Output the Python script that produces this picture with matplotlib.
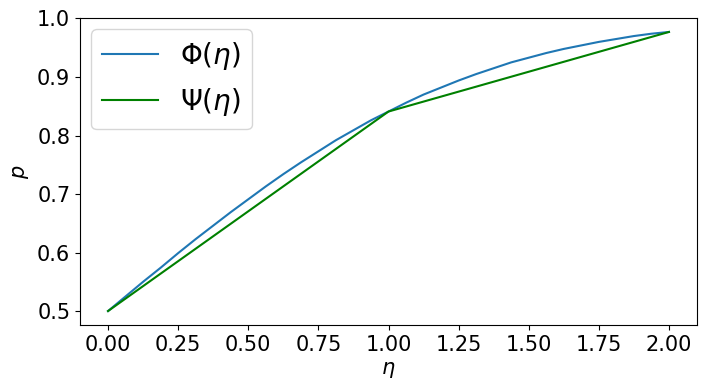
import matplotlib
matplotlib.use("Agg")
import matplotlib.pyplot as plt

eta = [0.0, 0.0625, 0.125, 0.1875, 0.25, 0.3125, 0.375, 0.4375, 0.5,
       0.5625, 0.625, 0.6875, 0.75, 0.8125, 0.875, 0.9375, 1.0,
       1.0625, 1.125, 1.1875, 1.25, 1.3125, 1.375, 1.4375, 1.5,
       1.5625, 1.625, 1.6875, 1.75, 1.8125, 1.875, 1.9375, 2.0]
phi = [0.500, 0.525, 0.550, 0.574, 0.599, 0.623, 0.646, 0.669, 0.691,
       0.713, 0.734, 0.754, 0.773, 0.792, 0.809, 0.826, 0.841,
       0.856, 0.870, 0.882, 0.894, 0.905, 0.915, 0.925, 0.933,
       0.941, 0.948, 0.954, 0.960, 0.965, 0.970, 0.974, 0.977]
eta_psi = [0.0, 1.0, 2.0]
psi = [0.500, 0.841, 0.977]

fig = plt.figure(figsize=(7.08, 3.9), dpi=100)
ax = fig.add_axes([80/708, 65/390, 617/708, 307/390])
ax.plot(eta, phi, color="#1f77b4", label=r"$\Phi(\eta)$")
ax.plot(eta_psi, psi, color="green", label=r"$\Psi(\eta)$")
ax.set_xticks([0, 0.25, 0.5, 0.75, 1.0, 1.25, 1.5, 1.75, 2.0])
ax.set_yticks([0.5, 0.6, 0.7, 0.8, 0.9, 1.0])
ax.tick_params(labelsize=15)
ax.set_xlabel(r"$\eta$", fontsize=15)
ax.set_ylabel(r"$p$", fontsize=15)
ax.legend(fontsize=20, loc="upper left", borderaxespad=0.4)
fig.savefig("out.png", dpi=100)
